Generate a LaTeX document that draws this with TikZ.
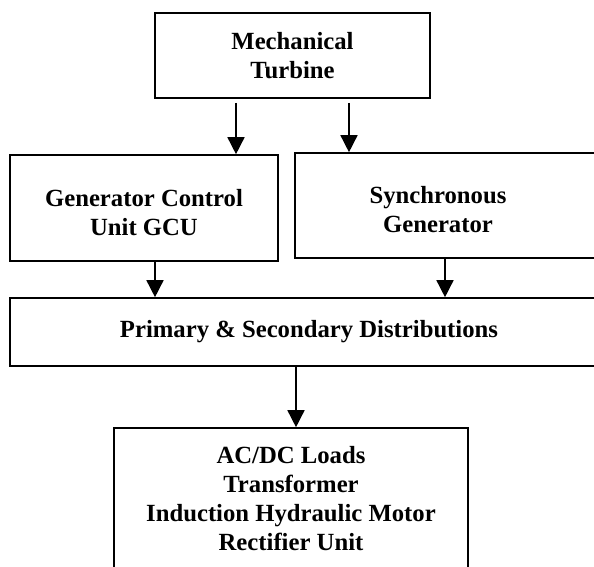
\documentclass[tikz,border=0pt]{standalone}
\usepackage{fontspec}
\setmainfont{Liberation Serif}
\usetikzlibrary{arrows.meta}
\begin{document}
\begin{tikzpicture}[x=1pt,y=1pt,
  box/.style={draw=black,line width=1.6pt,align=center,inner sep=0pt,
    font=\fontsize{24.7}{29}\selectfont\bfseries},
  arr/.style={line width=1.5pt,-{Triangle[width=17pt,length=17pt]}}]
\path[use as bounding box,clip] (0,0) rectangle (594,566);
\fill[white] (0,0) rectangle (594,566);
\node[box,minimum width=275,minimum height=85] (mt) at (292.5,510.5) {Mechanical\\Turbine};
\node[box,minimum width=268,minimum height=106] (gcu) at (144,358) {\rule{0pt}{26pt}Generator Control\\Unit GCU};
\node[box,draw=none,minimum width=286,minimum height=105] (sg) at (438,360.5) {\rule{0pt}{26pt}Synchronous\\Generator};
\draw[line width=1.6pt] (610,413) -- (295,413) -- (295,308) -- (610,308);
\node[box,minimum width=598,minimum height=68] (dist) at (309,234) {Primary \& Secondary Distributions};
\node[box,minimum width=354,minimum height=142] (load) at (291,67) {AC/DC Loads\\Transformer\\Induction Hydraulic Motor\\Rectifier Unit};
\coordinate (c1) at (236,0);
\coordinate (c2) at (349,0);
\coordinate (c3) at (155,0);
\coordinate (c4) at (445,0);
\coordinate (c5) at (296,0);
\draw[arr,shorten <=4pt] (mt.south -| c1) -- (gcu.north -| c1);
\draw[arr,shorten <=4pt] (mt.south -| c2) -- (sg.north -| c2);
\draw[arr] (gcu.south -| c3) -- (dist.north -| c3);
\draw[arr] (sg.south -| c4) -- (dist.north -| c4);
\draw[arr] (dist.south -| c5) -- (load.north -| c5);
\end{tikzpicture}
\end{document}
